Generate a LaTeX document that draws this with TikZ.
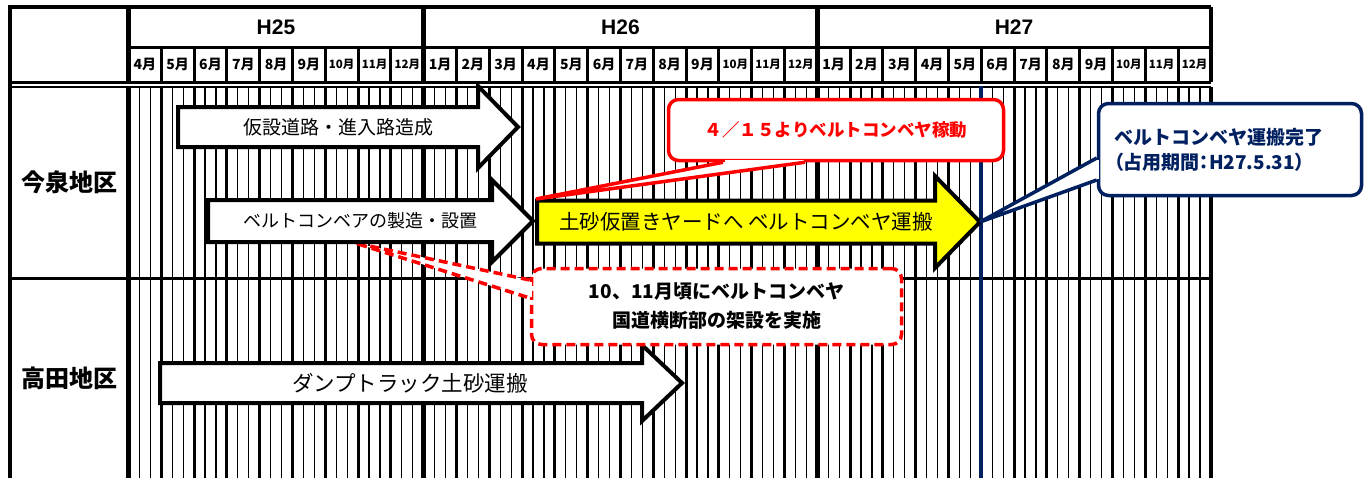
\documentclass[tikz,border=0pt]{standalone}
\usepackage{fontspec}
\setmainfont{Liberation Sans}
\newfontfamily\jp{Noto Sans CJK JP}
\usetikzlibrary{calc}

\definecolor{navy}{RGB}{0,32,96}
\definecolor{haulyellow}{RGB}{255,255,0}
\newcommand{\fsz}[1]{\fontsize{#1pt}{#1pt}\selectfont}
\newcommand{\monthtext}[1]{\ifnum#1>9 {\fsz{11.5}#1月}\else #1月\fi}

% block arrow: [fill]{tail}{head}{tip}{centre}{half shaft}{half head}
\newcommand{\ganttbar}[7][white]{%
  \draw[barshape, fill=#1] (#2,#5-#6) -- (#3,#5-#6) -- (#3,#5-#7) -- (#4,#5)
    -- (#3,#5+#7) -- (#3,#5+#6) -- (#2,#5+#6) -- cycle;}

\tikzset{
  yearline/.style={line width=4.5pt},
  monthline/.style={line width=3pt},
  thirdline/.style={line width=1.3pt},
  yearlabel/.style={font=\fsz{21}\bfseries, inner sep=0pt},
  monthlabel/.style={font=\jp\fsz{14}\bfseries, inner sep=0pt},
  arealabel/.style={font=\jp\fsz{24}\bfseries, inner sep=0pt},
  bartext/.style={font=\jp\fsz{19}, inner sep=0pt},
  barshape/.style={draw=black, line width=4pt},
  note/.style={rounded corners=10pt, line width=3.5pt, fill=white, inner sep=0pt, align=center},
}

\begin{document}
\begin{tikzpicture}[x=1pt, y=-1pt]
  \useasboundingbox (0,0) rectangle (1370,477);

  % thirds and months
  \foreach \m in {0,...,32} {
    \pgfmathsetmacro\xm{128.5+32.8*\m}
    \draw[thirdline] (\xm+10.93,87) -- (\xm+10.93,480) (\xm+21.87,87) -- (\xm+21.87,480);
    \draw[monthline] (\xm,47) -- (\xm,82) (\xm,87) -- (\xm,480);
  }
  \foreach \m in {0,9,21,33}
    \draw[yearline] (128.5+32.8*\m,7) -- ++(0,75) (128.5+32.8*\m,87) -- (128.5+32.8*\m,480);
  \draw[yearline] (8,7) -- (1210.9,7) (10,5) -- (10,480);
  \draw[monthline] (128.5,47) -- (1210.9,47) (10,82) -- (1210.9,82) (10,278) -- (1210.9,278);
  \draw[line width=2pt] (10,87) -- (1210.9,87);

  % header
  \node[yearlabel] (h25) at (276,27) {H25};
  \node[yearlabel] (h26) at (620.5,27) {H26};
  \node[yearlabel] (h27) at (1014,27) {H27};
  \foreach \yr/\first/\last/\off in {25/4/12/0,26/1/12/9,27/1/12/21}
    \foreach \mon [count=\i from \off] in {\first,...,\last}
      \node[monthlabel] (h\yr-\mon) at (128.5+32.8*\i+16.4,64.5) {\monthtext{\mon}};

  \node[arealabel] (imaizumi) at (69,182) {今泉地区};
  \node[arealabel] (takata) at (69,378) {高田地区};

  % end of occupancy
  \draw[navy, line width=4pt] (981.3,86) -- (981.3,480);

  % Takata
  \ganttbar{160}{642}{682}{383}{20}{38}
  \node[bartext, font=\jp\fsz{21.5}] (dump) at (410,383) {ダンプトラック土砂運搬};

  \node[note, draw=red, dash pattern=on 9pt off 5pt, minimum width=370pt, minimum height=76pt,
    font=\jp\fontsize{19pt}{29pt}\selectfont\bfseries] (crossing) at (716.5,306.5)
    {10、11月頃にベルトコンベヤ\\国道横断部の架設を実施};
  \coordinate (crossingtip) at (355,243);
  \fill[white] ($(crossing.west)+(-2.5,-25)$) rectangle ($(crossing.west)+(2.5,-10)$);
  \filldraw[fill=white, draw=red, line width=3.5pt, dash pattern=on 9pt off 5pt]
    ($(crossing.west)+(0,-26.5)$) -- (crossingtip) -- ($(crossing.west)+(0,-8.5)$);

  % Imaizumi
  \ganttbar{178}{478}{518}{127}{20}{41}
  \ganttbar{208}{492}{533}{221}{21}{41}
  \ganttbar[haulyellow]{537}{935}{980}{222}{21.5}{46}
  \node[bartext] (road) at (338,127) {仮設道路・進入路造成};
  \node[bartext, font=\jp\fsz{18}] (belt) at (360,221) {ベルトコンベアの製造・設置};
  \node[bartext, font=\jp\fsz{20.5}] (yard) at (746,222) {土砂仮置きヤードへ ベルトコンベヤ運搬};

  \node[note, draw=red, minimum width=335pt, minimum height=61pt, text=red,
    font=\jp\fsz{17.5}\bfseries] (start) at (836,130) {４／１５よりベルトコンベヤ稼動};
  \coordinate (starttip) at (536,199);
  \fill[white] ($(start.south)+(-111.5,-2.5)$) rectangle ($(start.south)+(-32.5,2.5)$);
  \filldraw[fill=white, draw=red, line width=3.5pt]
    ($(start.south)+(-113,0)$) -- (starttip) -- ($(start.south)+(-31,0)$);

  \node[note, draw=navy, minimum width=263pt, minimum height=92pt, text=navy, align=left,
    text width=232pt, font=\jp\fontsize{19pt}{25pt}\selectfont\bfseries] (finish) at (1230,149.5)
    {ベルトコンベヤ運搬完了\\{\addfontfeature{RawFeature=+palt}（占用期間：H27.5.31）}};
  \coordinate (finishtip) at (980,222);
  \fill[white] ($(finish.west)+(-2.5,10)$) rectangle ($(finish.west)+(2.5,29)$);
  \filldraw[fill=white, draw=navy, line width=3.5pt]
    ($(finish.west)+(0,8.5)$) -- (finishtip) -- ($(finish.west)+(0,30.5)$);
\end{tikzpicture}
\end{document}
